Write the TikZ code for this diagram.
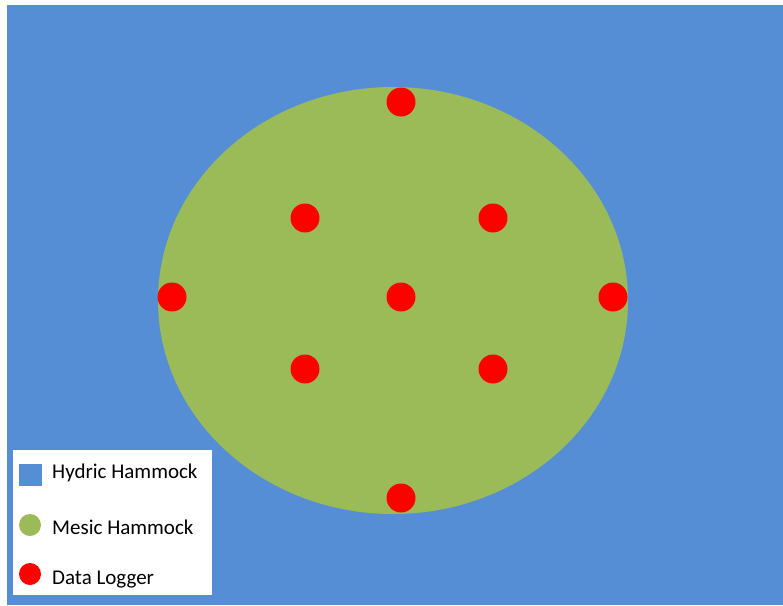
\documentclass[tikz,border=0pt]{standalone}
\usepackage{fontspec}
\setmainfont{Carlito}
\definecolor{hydric}{HTML}{558ED5}
\definecolor{mesic}{HTML}{9BBB59}
\definecolor{logger}{HTML}{FF0000}
\begin{document}
\begin{tikzpicture}[x=1pt,y=-1pt,
  dot/.style={circle,fill=logger,inner sep=0pt,minimum size=29pt},
  legtext/.style={anchor=west,inner sep=0pt,font=\fontsize{21}{24}\selectfont}]
\useasboundingbox (0,0) rectangle (783,605);
\fill[white] (0,0) rectangle (783,605);
\fill[hydric] (7,5) rectangle (783,605);
\fill[mesic] (393,300.5) ellipse [x radius=235, y radius=213.5];
\node[dot] (d1) at (401,102) {};
\node[dot] (d2) at (305,218) {};
\node[dot] (d3) at (493,218) {};
\node[dot] (d4) at (172,297) {};
\node[dot] (d5) at (401,297) {};
\node[dot] (d6) at (613,297) {};
\node[dot] (d7) at (305,369) {};
\node[dot] (d8) at (493,369) {};
\node[dot] (d9) at (401,498) {};
% legend
\fill[white] (13,450) rectangle (212,595);
\fill[hydric] (19,464) rectangle (42,486);
\fill[mesic] (30,525) circle (11);
\fill[logger] (30,574) circle (11);
\node[legtext] (l1) at (52,473) {Hydric Hammock};
\node[legtext] (l2) at (52,527) {Mesic Hammock};
\node[legtext] (l3) at (52,580) {Data Logger};
\end{tikzpicture}
\end{document}
